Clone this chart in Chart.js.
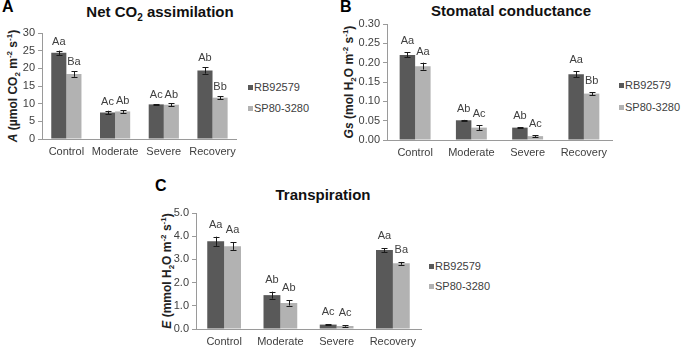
<!DOCTYPE html>
<html>
<head>
<meta charset="utf-8">
<script src="https://cdn.jsdelivr.net/npm/chart.js@4.4.1/dist/chart.umd.min.js"></script>
<style>
  body { margin: 0; background: #fff; width: 685px; height: 347px; position: relative; overflow: hidden;
         font-family: 'Liberation Sans', Arial, sans-serif; }
  canvas { position: absolute; }
  .abs { position: absolute; white-space: nowrap; }
  .panel { font-weight: bold; font-size: 16px; line-height: 16px; color: #000; }
  .title { font-weight: bold; font-size: 15px; line-height: 17px; color: #111; transform: translateX(-50%); }
  .title sub { font-size: 10px; line-height: 0; }
  .ytitle { font-weight: bold; font-size: 12px; line-height: 14px; color: #222;
            transform: translate(-50%, -50%) rotate(-90deg); }
  .ytitle sub, .ytitle sup { font-size: 8px; line-height: 0; }
  .leg { font-size: 11px; line-height: 13px; color: #404040; }
  .sw { position: absolute; width: 5px; height: 5px; }
</style>
</head>
<body>

<div class="abs panel" style="left:2px;top:-1px">A</div>
<div class="abs panel" style="left:340px;top:-1px">B</div>
<div class="abs panel" style="left:155px;top:178px">C</div>

<div class="abs title" style="left:160px;top:3px">Net CO<sub>2</sub> assimilation</div>
<div class="abs title" style="left:511px;top:2px">Stomatal conductance</div>
<div class="abs title" style="left:323px;top:186px">Transpiration</div>

<div class="abs ytitle" style="left:13px;top:86px"><i>A</i> (µmol CO<sub>2</sub> m<sup>-2</sup> s<sup>-1</sup>)</div>
<div class="abs ytitle" style="left:349px;top:82px"><i>Gs</i> (mol H<sub>2</sub>O m<sup>-2</sup> s<sup>-1</sup>)</div>
<div class="abs ytitle" style="left:167px;top:271px"><i>E</i> (mmol H<sub>2</sub>O m<sup>-2</sup> s<sup>-1</sup>)</div>

<canvas id="cA" width="242" height="165" style="left:0px;top:0px"></canvas>
<canvas id="cB" width="269" height="166" style="left:345px;top:0px"></canvas>
<canvas id="cC" width="269" height="162" style="left:154px;top:185px"></canvas>

<script>
// categories and series
const categories = ['Control', 'Moderate', 'Severe', 'Recovery'];
const seriesNames = ['RB92579', 'SP80-3280'];
const seriesColors = ['#595959', '#b2b2b2'];

// A - net CO2 assimilation
const rbA = [24.4, 7.5, 9.8, 19.4];
const rbAErr = [0.6, 0.5, 0.1, 0.9];
const spA = [18.4, 7.8, 9.7, 11.7];
const spAErr = [0.8, 0.4, 0.35, 0.45];
const rbALetters = ['Aa', 'Ac', 'Ac', 'Ab'];
const spALetters = ['Ba', 'Ab', 'Ab', 'Bb'];

// B - stomatal conductance
const rbB = [0.220, 0.051, 0.032, 0.170];
const rbBErr = [0.0065, 0.001, 0.0005, 0.008];
const spB = [0.191, 0.032, 0.010, 0.120];
const spBErr = [0.009, 0.006, 0.002, 0.0035];
const rbBLetters = ['Aa', 'Ab', 'Ab', 'Aa'];
const spBLetters = ['Aa', 'Ac', 'Ac', 'Bb'];

// C - transpiration
const rbC = [3.78, 1.46, 0.19, 3.40];
const rbCErr = [0.2, 0.15, 0.02, 0.08];
const spC = [3.57, 1.12, 0.13, 2.83];
const spCErr = [0.16, 0.11, 0.03, 0.06];
const rbCLetters = ['Aa', 'Ab', 'Ac', 'Aa'];
const spCLetters = ['Aa', 'Ab', 'Ac', 'Ba'];

const FONT = 'Liberation Sans';

// error bars + significance letters
const errorBars = {
    id: 'errorBars',
    afterDatasetsDraw(chart, args, opts) {
        let ctx = chart.ctx;
        let yScale = chart.scales.y;
        chart.data.datasets.forEach((ds, i) => {
            let meta = chart.getDatasetMeta(i);
            meta.data.forEach((bar, j) => {
                let v = ds.data[j], e = ds.errors[j];
                let top = yScale.getPixelForValue(v + e);
                let bot = yScale.getPixelForValue(v - e);
                let x = Math.round(bar.x) + 0.5;
                ctx.save();
                ctx.strokeStyle = '#1a1a1a';
                ctx.lineWidth = 1;
                ctx.beginPath();
                ctx.moveTo(x, top); ctx.lineTo(x, bot);
                ctx.moveTo(x - 3, Math.round(top) + 0.5); ctx.lineTo(x + 3, Math.round(top) + 0.5);
                ctx.moveTo(x - 3, Math.round(bot) + 0.5); ctx.lineTo(x + 3, Math.round(bot) + 0.5);
                ctx.stroke();
                ctx.fillStyle = '#404040';
                ctx.font = '11px "' + FONT + '"';
                ctx.textAlign = 'center';
                ctx.textBaseline = 'middle';
                ctx.fillText(ds.letters[j], bar.x, top - opts.gap);
                ctx.restore();
            });
        });
    }
};

function makeChart(id, p) {
    let canvas = document.getElementById(id);
    return new Chart(canvas, {
        type: 'bar',
        data: {
            labels: categories,
            datasets: [{
                label: seriesNames[0],
                data: p.rb,
                errors: p.rbErr,
                letters: p.rbLetters,
                backgroundColor: seriesColors[0],
                borderWidth: 0,
                barPercentage: 1,
                categoryPercentage: p.cat
            }, {
                label: seriesNames[1],
                data: p.sp,
                errors: p.spErr,
                letters: p.spLetters,
                backgroundColor: seriesColors[1],
                borderWidth: 0,
                barPercentage: 1,
                categoryPercentage: p.cat
            }]
        },
        options: {
            responsive: false,
            animation: false,
            devicePixelRatio: 1,
            layout: { padding: { top: p.padTop, right: 2, left: 0, bottom: 0 } },
            plugins: {
                legend: { display: false },
                title: { display: false },
                tooltip: { enabled: false },
                errorBars: { gap: p.gap }
            },
            scales: {
                x: {
                    grid: { display: false, drawTicks: false },
                    border: { display: true, color: '#9a9a9a', width: 1 },
                    ticks: { color: '#404040', font: { family: FONT, size: 11 }, padding: 6, maxRotation: 0 },
                    afterFit(scale) { scale.height = p.xH; }
                },
                y: {
                    min: 0,
                    max: p.max,
                    grid: { drawOnChartArea: false, drawTicks: true, tickLength: 4, color: '#9a9a9a' },
                    border: { display: true, color: '#9a9a9a', width: 1 },
                    ticks: {
                        stepSize: p.step,
                        color: '#404040',
                        font: { family: FONT, size: 11 },
                        padding: 3,
                        callback: v => v.toFixed(p.dec)
                    },
                    afterFit(scale) { scale.width = p.yW; }
                }
            }
        },
        plugins: [errorBars]
    });
}

makeChart('cA', { rb: rbA, rbErr: rbAErr, rbLetters: rbALetters, sp: spA, spErr: spAErr, spLetters: spALetters,
    max: 30, step: 5, dec: 0, cat: 0.62, yW: 42, padTop: 33, xH: 26, gap: 9 });
makeChart('cB', { rb: rbB, rbErr: rbBErr, rbLetters: rbBLetters, sp: spB, spErr: spBErr, spLetters: spBLetters,
    max: 0.3, step: 0.05, dec: 2, cat: 0.55, yW: 42, padTop: 24, xH: 26, gap: 11 });
makeChart('cC', { rb: rbC, rbErr: rbCErr, rbLetters: rbCLetters, sp: spC, spErr: spCErr, spLetters: spCLetters,
    max: 5, step: 0.5, dec: 1, cat: 0.6, yW: 42, padTop: 28, xH: 18, gap: 12 });

// legends
const legendSpots = [
    { x: 248, y: [88, 109] },
    { x: 619, y: [86, 108] },
    { x: 429, y: [267, 287] }
];
legendSpots.forEach(spot => {
    seriesNames.forEach((name, i) => {
        let sw = document.createElement('div');
        sw.className = 'sw';
        sw.style.background = seriesColors[i];
        sw.style.left = spot.x + 'px';
        sw.style.top = (spot.y[i] - 3) + 'px';
        document.body.appendChild(sw);
        let t = document.createElement('div');
        t.className = 'abs leg';
        t.textContent = name;
        t.style.left = (spot.x + 6) + 'px';
        t.style.top = (spot.y[i] - 7) + 'px';
        document.body.appendChild(t);
    });
});
</script>
</body>
</html>
